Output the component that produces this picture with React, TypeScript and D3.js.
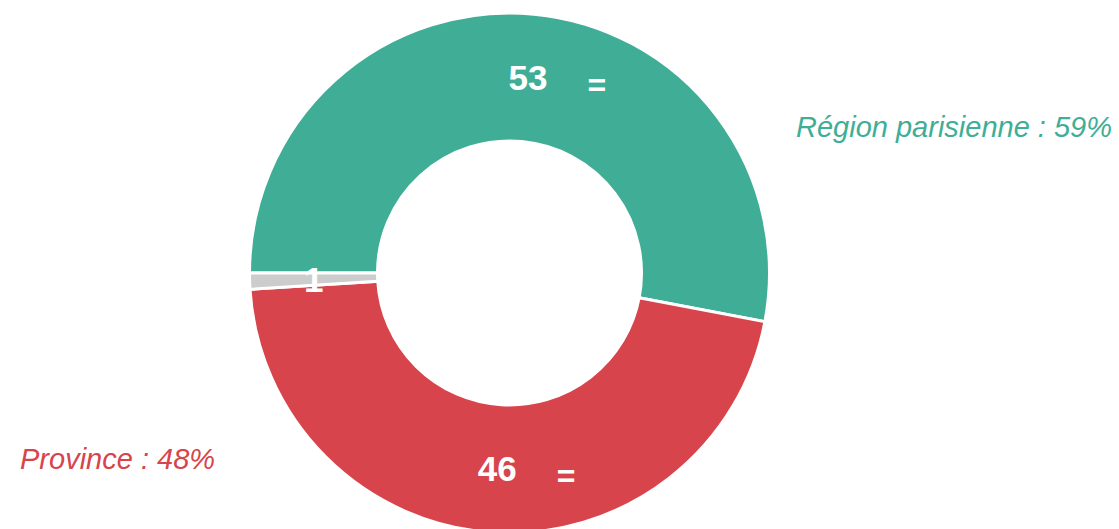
import React from "react";
import * as d3 from "d3";

const categories = ["Région parisienne", "Province", "Autre"];
const values = [53, 46, 1];
const colors = ["#40AE96", "#D7444B", "#CCCCCC"];
const signs = ["=", "=", ""];
const outerLabels = [
  { text: "Région parisienne : 59%", color: "#40AE96" },
  { text: "Province : 48%", color: "#D7444B" },
];

const W = 1119;
const H = 529;

export default function App() {
  const cx = 509.5;
  const cy = 273;
  const outerR = 260;
  const innerR = 132;
  const pie = d3
    .pie<number>()
    .sort(null)
    .startAngle(-Math.PI / 2)
    .endAngle((3 * Math.PI) / 2)
    .value((d) => d);
  const arcs = pie(values);
  const arc = d3.arc<d3.PieArcDatum<number>>().innerRadius(innerR).outerRadius(outerR);
  const font = "'Liberation Sans', Arial, sans-serif";
  return (
    <svg
      width={W}
      height={H}
      style={{ position: "absolute", left: 0, top: 0, display: "block" }}
    >
      <g transform={`translate(${cx},${cy})`}>
        {arcs.map((a, i) => (
          <path
            key={categories[i]}
            d={arc(a) || ""}
            fill={colors[i]}
            stroke="#ffffff"
            strokeWidth={3}
          />
        ))}
        {arcs.map((a, i) => {
          const [x, y] = arc.centroid(a);
          return (
            <g key={"l" + i}>
              <text
                x={x}
                y={y}
                dy="0.36em"
                textAnchor="middle"
                fill="#ffffff"
                fontFamily={font}
                fontWeight="bold"
                fontSize={35}
              >
                {values[i]}
              </text>
              {signs[i] && (
                <text
                  x={x + 69}
                  y={y + 7}
                  dy="0.36em"
                  textAnchor="middle"
                  fill="#ffffff"
                  fontFamily={font}
                  fontWeight="bold"
                  fontSize={32}
                >
                  {signs[i]}
                </text>
              )}
            </g>
          );
        })}
      </g>
      <text
        x={1112}
        y={137}
        textAnchor="end"
        fill={outerLabels[0].color}
        fontFamily={font}
        fontStyle="italic"
        fontSize={29}
      >
        {outerLabels[0].text}
      </text>
      <text
        x={20}
        y={469}
        textAnchor="start"
        fill={outerLabels[1].color}
        fontFamily={font}
        fontStyle="italic"
        fontSize={29}
      >
        {outerLabels[1].text}
      </text>
    </svg>
  );
}
